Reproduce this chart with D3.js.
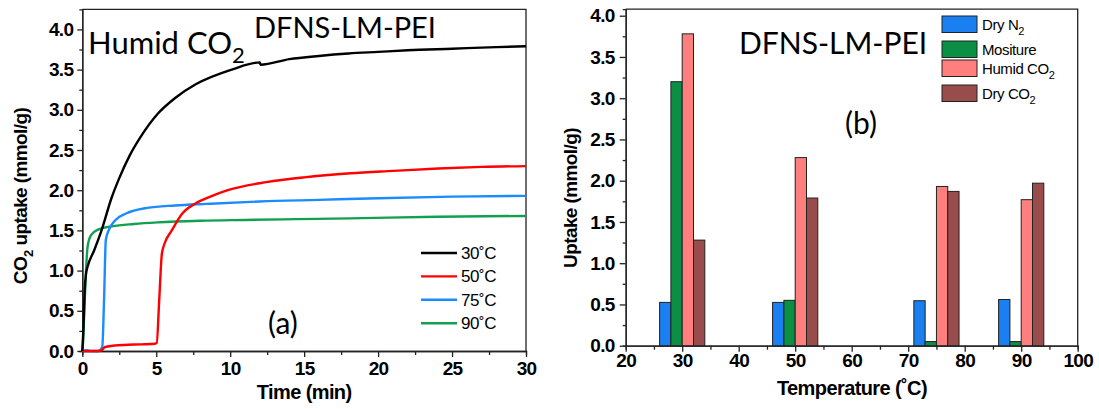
<!DOCTYPE html>
<html>
<head>
<meta charset="utf-8">
<script src="https://cdn.jsdelivr.net/npm/d3@7"></script>
<style>
  body { margin: 0; background: #fff; }
  svg { display: block; }
  .tick text { font-family: "Liberation Sans", Arial, sans-serif; font-weight: bold; font-size: 19px; letter-spacing: -0.7px; fill: #000; }
  .axis path, .axis line { stroke: #222; stroke-width: 1.3px; }
  .lbl { font-family: "Liberation Sans", Arial, sans-serif; font-weight: bold; font-size: 19px; letter-spacing: -0.6px; }
  .big { font-family: Lato, "Open Sans", sans-serif; }
  .leg { font-family: "Liberation Sans Narrow", "Arial Narrow", "Liberation Sans", sans-serif; font-size: 15px; letter-spacing: -0.4px; }
</style>
</head>
<body>
<div id="chart"></div>
<script>
(function() {

    var width = 1099;
    var height = 409;

    // (a) uptake vs time, one pair of arrays per temperature
    var t30 = [0, 0.08, 0.16, 0.26, 0.36, 0.8, 1.3, 1.97, 2.5, 3.2, 3.9, 5.1, 6.3, 7.7, 10.1, 12, 12.05, 14, 16, 18, 20, 22, 25, 28, 30];
    var v30 = [0, 0.3, 0.75, 0.97, 1.05, 1.25, 1.5, 1.9, 2.15, 2.43, 2.65, 2.95, 3.15, 3.32, 3.5, 3.59, 3.56, 3.63, 3.67, 3.7, 3.72, 3.74, 3.76, 3.78, 3.79];

    var t50 = [0, 1.07, 1.3, 1.54, 2.25, 3.5, 4.86, 5.03, 5.2, 5.38, 5.57, 6.05, 6.76, 7.7, 8.66, 9.84, 12.45, 15, 18.14, 21, 24.07, 27, 30];
    var v50 = [0, 0, 0.01, 0.05, 0.07, 0.08, 0.09, 0.1, 0.63, 1.21, 1.34, 1.5, 1.71, 1.84, 1.92, 2.0, 2.1, 2.16, 2.21, 2.24, 2.27, 2.29, 2.3];

    var t75 = [0, 0.3, 0.6, 1.07, 1.35, 1.47, 1.59, 1.78, 2.25, 2.96, 4.39, 6.28, 8.4, 12, 16, 20, 25, 30];
    var v75 = [0, 0.01, 0.0, 0, 0.05, 0.63, 1.38, 1.5, 1.63, 1.71, 1.78, 1.81, 1.83, 1.86, 1.88, 1.9, 1.92, 1.93];

    var t90 = [0, 0.05, 0.12, 0.24, 0.36, 0.59, 1.07, 2.0, 3.5, 5.1, 8, 11, 14.5, 18.1, 24, 30];
    var v90 = [0, 0.1, 0.42, 0.96, 1.3, 1.44, 1.51, 1.55, 1.58, 1.6, 1.62, 1.63, 1.64, 1.65, 1.67, 1.68];

    var curveNames = ["30˚C", "50˚C", "75˚C", "90˚C"];
    var curveColors = ["#000000", "#ff0000", "#1a8cff", "#12a050"];

    // (b) uptake vs temperature
    var temps = [30, 50, 75, 90];
    var dryN2 = [0.525, 0.525, 0.545, 0.56];
    var moisture = [3.2, 0.55, 0.05, 0.05];
    var humidCO2 = [3.78, 2.28, 1.93, 1.77];
    var dryCO2 = [1.28, 1.79, 1.87, 1.97];
    var barNames = ["Dry N", "Mositure", "Humid CO", "Dry CO"];
    var barSubs = ["2", "", "2", "2"];
    var barColors = ["#1a7ff0", "#0a8f45", "#ff7f7f", "#994c4c"];
    var barOffsets = [-4, -2, 0, 2];

    var svg = d3.select("#chart")
        .append("svg")
        .attr("width", width)
        .attr("height", height);

    // ---------- panel (a) ----------
    var xa = d3.scaleLinear().domain([0, 30]).range([82.3, 526]);
    var ya = d3.scaleLinear().domain([0, 4.25]).range([351, 9.3]);

    var ga = svg.append("g");

    ga.append("g").attr("class", "axis")
        .attr("transform", "translate(0," + ya(0) + ")")
        .call(d3.axisBottom(xa).tickValues(d3.range(2.5, 30, 5)).tickSize(4).tickFormat(""));
    ga.append("g").attr("class", "axis")
        .attr("transform", "translate(0," + ya(0) + ")")
        .call(d3.axisBottom(xa).tickValues(d3.range(0, 31, 5)).tickSize(6).tickPadding(5).tickSizeOuter(0));
    ga.append("g").attr("class", "axis")
        .attr("transform", "translate(" + xa(0) + ",0)")
        .call(d3.axisLeft(ya).tickValues(d3.range(0.25, 4.25, 0.5)).tickSize(3).tickFormat(""));
    ga.append("g").attr("class", "axis")
        .attr("transform", "translate(" + xa(0) + ",0)")
        .call(d3.axisLeft(ya).tickValues(d3.range(0, 4.01, 0.5)).tickSize(5).tickPadding(4).tickFormat(d3.format(".1f")).tickSizeOuter(0));

    ga.append("path")
        .attr("d", "M" + xa(0) + "," + ya(4.25) + "H" + xa(30) + "V" + ya(0))
        .attr("fill", "none").attr("stroke", "#222").attr("stroke-width", 1.3);

    var series = [[t30, v30], [t50, v50], [t75, v75], [t90, v90]];
    var line = d3.line()
        .x(d => xa(d[0]))
        .y(d => ya(d[1]))
        .curve(d3.curveMonotoneX);

    // draw back to front so black ends on top like the reference
    [3, 2, 1, 0].forEach(function(i) {
        var pts = series[i][0].map((t, k) => [t, series[i][1][k]]);
        ga.append("path")
            .datum(pts)
            .attr("d", line)
            .attr("fill", "none")
            .attr("stroke", curveColors[i])
            .attr("stroke-width", 2.4);
    });

    var lega = ga.append("g").attr("transform", "translate(421,253)");
    curveNames.forEach(function(n, i) {
        var r = lega.append("g").attr("transform", "translate(0," + (i * 23.4) + ")");
        r.append("line").attr("x1", 0).attr("x2", 36).attr("stroke", curveColors[i]).attr("stroke-width", 2.4);
        r.append("text").attr("class", "leg").attr("x", 40).attr("y", 6).style("font-size", "17px").text(n);
    });

    var ta = ga.append("text").attr("class", "big").attr("x", 88).attr("y", 54).style("font-size", "31px");
    ta.append("tspan").text("Humid CO");
    ta.append("tspan").attr("dy", 9).style("font-size", "22px").text("2");
    ga.append("text").attr("class", "big").attr("x", 254).attr("y", 38).style("font-size", "29px").text("DFNS-LM-PEI");
    ga.append("text").attr("class", "big").attr("x", 268).attr("y", 334).style("font-size", "30px").text("(a)");

    ga.append("text").attr("class", "lbl").attr("text-anchor", "middle")
        .attr("x", xa(15)).attr("y", 399).style("font-size", "20px").text("Time (min)");
    var yl = ga.append("text").attr("class", "lbl").attr("text-anchor", "middle")
        .attr("transform", "translate(27,196) rotate(-90)");
    yl.append("tspan").text("CO");
    yl.append("tspan").attr("dy", 6).style("font-size", "13px").text("2");
    yl.append("tspan").attr("dy", -6).text(" uptake (mmol/g)");

    // ---------- panel (b) ----------
    var xb = d3.scaleLinear().domain([20, 100]).range([625.7, 1077.7]);
    var yb = d3.scaleLinear().domain([0, 4.08]).range([345.7, 9.1]);

    var gb = svg.append("g");

    gb.append("g").attr("class", "axis")
        .attr("transform", "translate(0," + yb(0) + ")")
        .call(d3.axisBottom(xb).tickValues(d3.range(25, 100, 10)).tickSize(4).tickFormat(""));
    gb.append("g").attr("class", "axis")
        .attr("transform", "translate(0," + yb(0) + ")")
        .call(d3.axisBottom(xb).tickValues(d3.range(20, 101, 10)).tickSize(6).tickPadding(2).tickSizeOuter(0));
    gb.append("g").attr("class", "axis")
        .attr("transform", "translate(" + xb(20) + ",0)")
        .call(d3.axisLeft(yb).tickValues(d3.range(0.25, 4, 0.5)).tickSize(3).tickFormat(""));
    gb.append("g").attr("class", "axis")
        .attr("transform", "translate(" + xb(20) + ",0)")
        .call(d3.axisLeft(yb).tickValues(d3.range(0, 4.01, 0.5)).tickSize(6).tickPadding(5).tickFormat(d3.format(".1f")).tickSizeOuter(0));

    gb.append("path")
        .attr("d", "M" + xb(20) + "," + yb(4.08) + "H" + xb(100) + "V" + yb(0))
        .attr("fill", "none").attr("stroke", "#222").attr("stroke-width", 1.3);

    var barSets = [dryN2, moisture, humidCO2, dryCO2];
    barSets.forEach(function(vals, i) {
        gb.selectAll(null)
            .data(temps)
            .enter()
            .append("rect")
            .attr("x", (d) => xb(d + barOffsets[i]))
            .attr("width", xb(22) - xb(20))
            .attr("y", (d, k) => yb(vals[k]))
            .attr("height", (d, k) => yb(0) - yb(vals[k]))
            .attr("fill", barColors[i])
            .attr("stroke", "#222")
            .attr("stroke-width", 1);
    });

    var legY = [16, 41, 60, 85];
    var legb = gb.append("g").attr("transform", "translate(942,0)");
    barNames.forEach(function(n, i) {
        legb.append("rect").attr("x", 0).attr("y", legY[i]).attr("width", 35).attr("height", 16.5)
            .attr("fill", barColors[i]).attr("stroke", "#222").attr("stroke-width", 1);
        var tx = legb.append("text").attr("class", "leg").attr("x", 40).attr("y", legY[i] + 13.5);
        tx.append("tspan").text(n);
        if (barSubs[i]) tx.append("tspan").attr("dy", 5).style("font-size", "11px").text(barSubs[i]);
    });

    gb.append("text").attr("class", "big").attr("x", 739).attr("y", 54).style("font-size", "30px").text("DFNS-LM-PEI");
    gb.append("text").attr("class", "big").attr("x", 845).attr("y", 134).style("font-size", "30px").text("(b)");

    gb.append("text").attr("class", "lbl").attr("text-anchor", "middle")
        .attr("x", 852).attr("y", 395).style("font-size", "20px").text("Temperature (˚C)");
    gb.append("text").attr("class", "lbl").attr("text-anchor", "middle")
        .attr("transform", "translate(577,198) rotate(-90)")
        .text("Uptake (mmol/g)");

})();
</script>
</body>
</html>
